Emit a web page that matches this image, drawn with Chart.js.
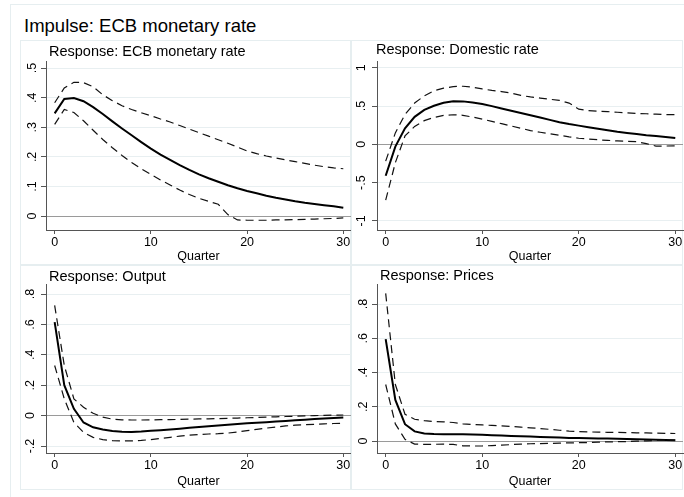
<!DOCTYPE html>
<html>
<head>
<meta charset="utf-8">
<script src="https://cdn.jsdelivr.net/npm/chart.js@4"></script>
<style>
body { margin: 0; background: #fff; font-family: "Liberation Sans", Arial, sans-serif; }
#wrap { position: relative; width: 684px; height: 497px; overflow: hidden; }
.frame { position: absolute; left: 10px; top: 4px; width: 680px; height: 500px; border: 1px solid #e6eef0; }
#main { position: absolute; left: 24px; top: 15px; font-size: 18.5px; color: #000; white-space: nowrap; line-height: 21px; }
.panel { position: absolute; height: 225px; border: 1px solid #e6eef0; box-sizing: border-box; }
.panel canvas { position: absolute; left: 0; top: 0; }
.sub { position: absolute; font-size: 14.5px; color: #000; white-space: nowrap; line-height: 16px; }
</style>
</head>
<body>
<div id="wrap">
  <div class="frame"></div>
  <div id="main">Impulse: ECB monetary rate</div>

  <div class="panel" style="left:20px;top:40px;width:331px">
    <canvas id="p1" width="331" height="225"></canvas>
    <div class="sub" style="left:28px;top:2px">Response: ECB monetary rate</div>
  </div>
  <div class="panel" style="left:351px;top:40px;width:332px">
    <canvas id="p2" width="332" height="225"></canvas>
    <div class="sub" style="left:24px;top:0px">Response: Domestic rate</div>
  </div>
  <div class="panel" style="left:20px;top:265px;width:331px">
    <canvas id="p3" width="331" height="225"></canvas>
    <div class="sub" style="left:28px;top:2px">Response: Output</div>
  </div>
  <div class="panel" style="left:351px;top:265px;width:332px">
    <canvas id="p4" width="332" height="225"></canvas>
    <div class="sub" style="left:28px;top:1px">Response: Prices</div>
  </div>
</div>

<script>
// horizon
const quarters = [0,1,2,3,4,5,6,7,8,9,10,11,12,13,14,15,16,17,18,19,20,21,22,23,24,25,26,27,28,29,30];
const xTicks = [0, 10, 20, 30];

// response: ECB monetary rate
const ecbIrf = [0.347,0.396,0.399,0.388,0.368,0.345,0.32,0.296,0.273,0.25,0.228,0.208,0.19,0.172,0.156,0.141,0.128,0.116,0.104,0.094,0.085,0.077,0.069,0.062,0.056,0.05,0.045,0.041,0.037,0.033,0.028];
const ecbHi  = [0.383,0.433,0.452,0.451,0.437,0.41,0.39,0.373,0.36,0.349,0.339,0.328,0.318,0.306,0.294,0.282,0.27,0.258,0.246,0.233,0.22,0.211,0.203,0.196,0.19,0.184,0.178,0.172,0.167,0.163,0.16];
const ecbLo  = [0.31,0.36,0.35,0.322,0.29,0.259,0.231,0.205,0.181,0.16,0.141,0.122,0.105,0.088,0.073,0.06,0.05,0.04,0.005,-0.013,-0.014,-0.014,-0.014,-0.013,-0.013,-0.012,-0.011,-0.01,-0.009,-0.008,-0.006];
const ecbTicks = [0, 0.1, 0.2, 0.3, 0.4, 0.5];

// response: domestic rate
const domIrf = [-0.41,-0.03,0.21,0.36,0.45,0.505,0.545,0.565,0.562,0.547,0.527,0.5,0.47,0.44,0.41,0.38,0.35,0.32,0.29,0.265,0.245,0.225,0.205,0.185,0.165,0.15,0.135,0.12,0.108,0.095,0.083];
const domHi  = [-0.22,0.15,0.39,0.54,0.635,0.7,0.735,0.755,0.76,0.748,0.725,0.705,0.69,0.67,0.64,0.62,0.605,0.59,0.575,0.54,0.46,0.44,0.435,0.428,0.42,0.412,0.405,0.4,0.395,0.39,0.388];
const domLo  = [-0.73,-0.24,0.11,0.235,0.31,0.352,0.378,0.387,0.38,0.357,0.33,0.3,0.27,0.24,0.21,0.18,0.158,0.138,0.12,0.098,0.08,0.07,0.06,0.052,0.045,0.04,0.035,0.01,-0.022,-0.022,-0.02];
const domTicks = [-1, -0.5, 0, 0.5, 1];

// response: output
const outIrf = [0.615,0.2,0.045,-0.045,-0.077,-0.092,-0.101,-0.106,-0.107,-0.105,-0.1,-0.096,-0.091,-0.086,-0.08,-0.075,-0.07,-0.065,-0.06,-0.055,-0.051,-0.047,-0.043,-0.039,-0.035,-0.031,-0.027,-0.023,-0.019,-0.015,-0.012];
const outHi  = [0.725,0.33,0.11,0.055,0.015,-0.01,-0.023,-0.028,-0.029,-0.029,-0.028,-0.027,-0.026,-0.025,-0.023,-0.022,-0.021,-0.02,-0.018,-0.016,-0.014,-0.012,-0.01,-0.008,-0.006,-0.004,-0.002,0,0.002,0.003,0.004];
const outLo  = [0.33,0.11,-0.045,-0.11,-0.143,-0.158,-0.165,-0.167,-0.166,-0.163,-0.158,-0.15,-0.143,-0.135,-0.128,-0.124,-0.121,-0.119,-0.115,-0.108,-0.099,-0.09,-0.082,-0.075,-0.068,-0.063,-0.06,-0.057,-0.054,-0.052,-0.05];
const outTicks = [-0.2, 0, 0.2, 0.4, 0.6, 0.8];

// response: prices
const priIrf = [0.595,0.24,0.098,0.056,0.044,0.041,0.04,0.04,0.039,0.038,0.036,0.034,0.032,0.03,0.028,0.026,0.024,0.022,0.02,0.018,0.017,0.016,0.015,0.014,0.013,0.012,0.01,0.009,0.007,0.006,0.005];
const priHi  = [0.862,0.33,0.156,0.127,0.119,0.114,0.112,0.108,0.1,0.096,0.094,0.091,0.088,0.085,0.081,0.077,0.073,0.068,0.063,0.058,0.055,0.053,0.052,0.051,0.05,0.049,0.048,0.047,0.046,0.045,0.044];
const priLo  = [0.33,0.1,0.01,-0.018,-0.02,-0.019,-0.018,-0.02,-0.028,-0.029,-0.029,-0.027,-0.024,-0.021,-0.018,-0.016,-0.015,-0.014,-0.012,-0.011,-0.01,-0.009,-0.007,-0.005,-0.004,-0.003,-0.001,0.001,0.003,0.005,0.006];
const priTicks = [0, 0.2, 0.4, 0.6, 0.8];

const FONT = '"Liberation Sans", Arial, sans-serif';
const AXIS = '#555';
const GRID = '#e8eff1';

function pts(vals) {
    return quarters.map((q, i) => ({ x: q, y: vals[i] }));
}

// stata style labels: .5, -.5, 0
function stataLabel(v) {
    let s = String(+v.toFixed(2));
    return s.replace(/^(-?)0\./, '$1.');
}

function makePanel(id, irf, lo, hi, yTicks, yMin, yMax, padTop, xHeight) {
    const band = {
        borderColor: '#111',
        borderWidth: 1.2,
        borderDash: [8, 5],
        pointRadius: 0,
        tension: 0,
        fill: false,
    };
    new Chart(document.getElementById(id), {
        type: 'line',
        data: {
            datasets: [
                { ...band, data: pts(hi) },
                { ...band, data: pts(lo) },
                { data: pts(irf), borderColor: '#000', borderWidth: 2, pointRadius: 0, tension: 0, fill: false },
            ],
        },
        options: {
            responsive: false,
            animation: false,
            layout: { padding: { top: padTop, right: 1, left: 0, bottom: 0 } },
            plugins: { legend: { display: false }, tooltip: { enabled: false } },
            scales: {
                x: {
                    type: 'linear',
                    min: -0.9,
                    max: 30.8,
                    afterBuildTicks: s => { s.ticks = xTicks.map(v => ({ value: v })); },
                    afterFit: s => { s.height = xHeight; },
                    grid: { drawOnChartArea: false, drawTicks: true, tickLength: 4, tickColor: AXIS },
                    border: { color: AXIS, width: 1 },
                    ticks: { color: '#000', padding: 1, maxRotation: 0, font: { family: FONT, size: 12.5 } },
                    title: { display: true, text: 'Quarter', color: '#000', font: { family: FONT, size: 12.5 }, padding: { top: 0, bottom: 2 } },
                },
                y: {
                    min: yMin,
                    max: yMax,
                    afterBuildTicks: s => { s.ticks = yTicks.map(v => ({ value: v })); },
                    afterFit: s => { s.width = 25; },
                    grid: {
                        color: c => (c.tick && c.tick.value === 0 ? '#9a9a9a' : GRID),
                        lineWidth: 1,
                        tickLength: 5,
                        tickColor: AXIS,
                    },
                    border: { color: AXIS, width: 1 },
                    ticks: {
                        color: '#000',
                        minRotation: 90,
                        maxRotation: 90,
                        crossAlign: 'center',
                        padding: 3.5,
                        font: { family: FONT, size: 12.5 },
                        callback: v => stataLabel(v),
                    },
                },
            },
        },
    });
}

makePanel('p1', ecbIrf, ecbLo, ecbHi, ecbTicks, -0.047, 0.524, 20, 36);
makePanel('p2', domIrf, domLo, domHi, domTicks, -1.12, 1.09, 20, 36);
makePanel('p3', outIrf, outLo, outHi, outTicks, -0.246, 0.866, 18, 38);
makePanel('p4', priIrf, priLo, priHi, priTicks, -0.07, 0.917, 18, 38);
</script>
</body>
</html>
